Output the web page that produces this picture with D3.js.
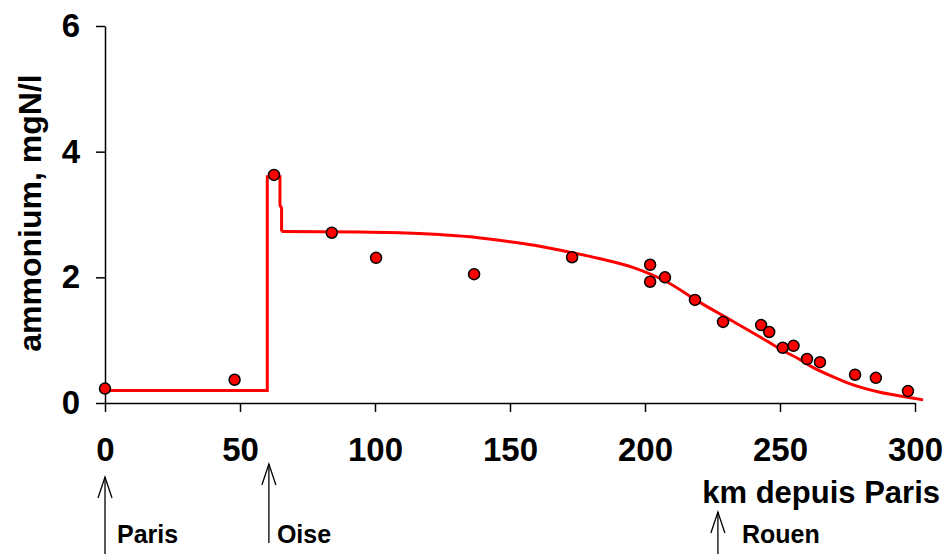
<!DOCTYPE html>
<html>
<head>
<meta charset="utf-8">
<script src="https://cdn.jsdelivr.net/npm/d3@7"></script>
<style>
	body { margin: 0; background: #fff; }
	svg { display: block; font-family: "Liberation Sans", Arial, sans-serif; font-weight: bold; }
</style>
</head>
<body>
<svg class="chart" width="946" height="554"></svg>
<script>
/** DATA **/
// measured points: km from Paris, ammonium mgN/l
let obsKm = [0, 48, 62.6, 84, 100.4, 136.7, 173, 201.9, 201.9, 207.4, 218.5, 228.9, 243, 246, 251, 255, 260, 264.8, 277.8, 285.5, 297.4];
let obsVal = [0.23, 0.37, 3.63, 2.71, 2.31, 2.05, 2.32, 2.2, 1.93, 2.0, 1.64, 1.29, 1.24, 1.13, 0.88, 0.91, 0.70, 0.65, 0.45, 0.40, 0.19];

// model curve: step part (Paris -> Oise confluence) and decay part
let stepKm = [0, 60.1, 60.1, 64.8, 64.8, 65.4, 65.4];
let stepVal = [0.2, 0.2, 3.6, 3.6, 3.15, 3.1, 2.73];
let decayKm = [65.4, 94.4, 109, 124, 134, 146, 159, 171, 183, 196, 208, 220, 233, 245, 250, 257, 262, 270, 275, 287, 299, 303];
let decayVal = [2.73, 2.72, 2.71, 2.68, 2.65, 2.59, 2.51, 2.41, 2.30, 2.15, 1.93, 1.61, 1.29, 0.99, 0.86, 0.70, 0.57, 0.41, 0.32, 0.17, 0.08, 0.05];

let xTicks = [0, 50, 100, 150, 200, 250, 300];
let yTicks = [0, 2, 4, 6];

// places along the river
let placeNames = ['Paris', 'Oise', 'Rouen'];
let placeKm = [0, 60.7, 227];

/** CONSTANTS **/
let margin = { top: 26, right: 31, bottom: 151, left: 105 };
let width = 946 - margin.left - margin.right;
let height = 554 - margin.top - margin.bottom;

let x = d3.scaleLinear().domain([0, 300]).range([0, width]);
let y = d3.scaleLinear().domain([0, 6]).range([height, 0]);

// arrow layout (pixels)
let arrowTip = [477, 464, 512];
let arrowBase = [554, 543, 554];
let labelDx = [12, 8, 24];

let svg = d3.select('.chart');
let g = svg.append('g').attr('transform', 'translate(' + margin.left + ',' + margin.top + ')');

// x axis
g.append('g')
	.attr('transform', 'translate(0,' + height + ')')
	.call(d3.axisBottom(x).tickValues(xTicks).tickFormat(d3.format('d')).tickSize(9).tickSizeOuter(0).tickPadding(26));

// y axis
g.append('g')
	.call(d3.axisLeft(y).tickValues(yTicks).tickFormat(d3.format('d')).tickSize(9).tickSizeOuter(0).tickPadding(16));

g.selectAll('.domain, .tick line')
	.attr('stroke', '#000')
	.attr('stroke-width', 1.5);
g.selectAll('.tick text')
	.attr('fill', '#000')
	.style('font-size', '33px')
	.style('font-weight', 'bold')
	.style('font-family', '"Liberation Sans", Arial, sans-serif');

// axis titles
svg.append('text')
	.attr('transform', 'translate(41,213) rotate(-90)')
	.attr('text-anchor', 'middle')
	.style('font-size', '32px')
	.text('ammonium, mgN/l');

svg.append('text')
	.attr('x', 940)
	.attr('y', 503)
	.attr('text-anchor', 'end')
	.style('font-size', '31px')
	.text('km depuis Paris');

// model line
let stepLine = d3.line()
	.x(function(d) { return x(d[0]); })
	.y(function(d) { return y(d[1]); });
let smoothLine = d3.line()
	.curve(d3.curveMonotoneX)
	.x(function(d) { return x(d[0]); })
	.y(function(d) { return y(d[1]); });

g.append('path')
	.datum(stepKm.map(function(k, i) { return [k, stepVal[i]]; }))
	.attr('fill', 'none')
	.attr('stroke', '#ff0000')
	.attr('stroke-width', 3)
	.attr('d', stepLine);

g.append('path')
	.datum(decayKm.map(function(k, i) { return [k, decayVal[i]]; }))
	.attr('fill', 'none')
	.attr('stroke', '#ff0000')
	.attr('stroke-width', 3)
	.attr('d', smoothLine);

// observations
g.selectAll('.obs')
	.data(obsKm.map(function(k, i) { return [k, obsVal[i]]; }))
	.enter()
	.append('circle')
	.attr('class', 'obs')
	.attr('cx', function(d) { return x(d[0]); })
	.attr('cy', function(d) { return y(d[1]); })
	.attr('r', 5.5)
	.attr('fill', '#ff0000')
	.attr('stroke', '#000')
	.attr('stroke-width', 1.5);

// arrows below axis
placeNames.forEach(function(name, i) {
	let px = margin.left + x(placeKm[i]);
	let a = svg.append('g').attr('stroke', '#000').attr('stroke-width', 1.3).attr('fill', 'none');
	a.append('line').attr('x1', px).attr('x2', px).attr('y1', arrowTip[i]).attr('y2', arrowBase[i]);
	a.append('path').attr('d', 'M' + (px - 7) + ',' + (arrowTip[i] + 21) + 'L' + px + ',' + arrowTip[i] + 'L' + (px + 7) + ',' + (arrowTip[i] + 21));
	svg.append('text')
		.attr('x', px + labelDx[i])
		.attr('y', 543)
		.style('font-size', '25px')
		.text(name);
});
</script>
</body>
</html>
